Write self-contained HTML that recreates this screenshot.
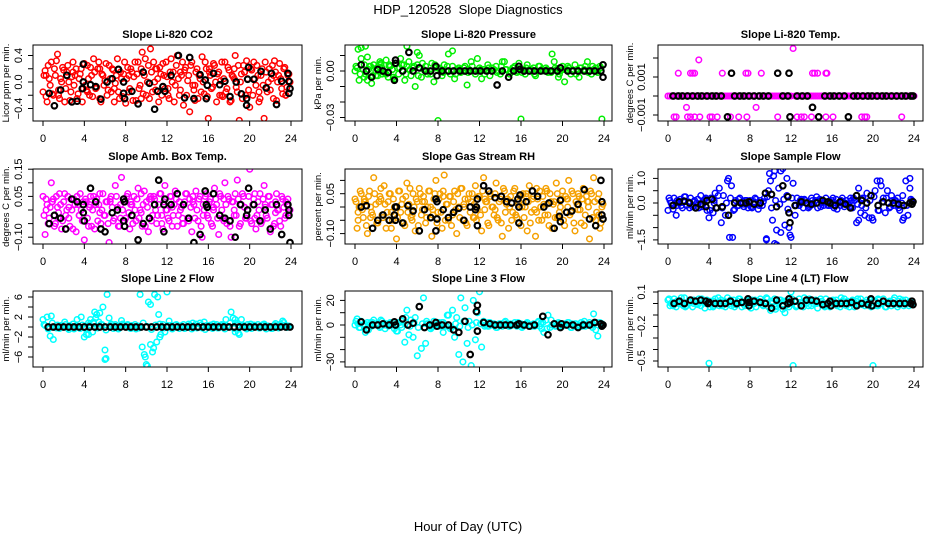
<!DOCTYPE html>
<html><head><meta charset="utf-8"><style>
html,body{margin:0;padding:0;background:#fff;}
svg{display:block;font-family:"Liberation Sans",sans-serif;}
</style></head><body>
<svg id="chart" width="936" height="540" viewBox="0 0 936 540" xmlns="http://www.w3.org/2000/svg">
<text x="468" y="14" font-size="13" text-anchor="middle" xml:space="preserve">HDP_120528&#160; Slope Diagnostics</text>
<text x="468" y="531" font-size="13" text-anchor="middle">Hour of Day (UTC)</text>
</svg>
<script>
const sampleStep = 0.2;
const xTicks = [0,4,8,12,16,20,24];
const xTickLabels = ["0","4","8","12","16","20","24"];

const co2Values = [-0.15,0.17,-0.3,0.05,0.3,-0.2,0.1,0.42,-0.25,0.0,0.18,-0.1,0.25,-0.28,0.08,-0.05,0.2,-0.18,0.12,-0.3,
0.28,-0.12,0.05,0.22,-0.22,0.15,-0.08,0.3,-0.3,0.1,0.02,-0.2,0.25,-0.15,0.18,-0.02,0.35,-0.25,0.05,0.12,
-0.32,0.22,-0.1,0.15,0.08,-0.28,0.3,-0.05,0.45,0.1,-0.2,0.25,0.5,-0.15,0.0,0.2,-0.3,0.12,0.28,-0.1,
0.08,-0.25,0.35,0.15,-0.05,0.4,-0.2,0.1,-0.35,0.22,0.02,-0.45,0.3,-0.12,0.15,-0.25,0.05,0.38,-0.18,0.2,
-0.55,0.1,-0.08,0.25,-0.3,0.15,0.02,-0.22,0.3,-0.1,0.18,-0.28,0.08,0.4,-0.15,-0.58,0.12,0.25,-0.2,0.05,
-0.38,0.18,0.3,-0.05,0.1,-0.25,0.2,-0.55,0.15,0.0,-0.12,0.25,0.32,-0.28,0.1,0.05,-0.18,0.22,-0.08,0.12];
const co2Values2 = [0.1,-0.22,0.25,-0.05,-0.18,0.2,0.32,-0.12,0.05,0.22,-0.3,0.15,0.0,-0.15,0.3,0.1,-0.25,0.05,0.2,-0.1,
-0.05,0.25,-0.2,0.1,0.35,-0.1,0.2,-0.25,0.12,-0.05,0.28,-0.12,0.05,0.2,-0.3,0.1,-0.15,0.15,-0.22,0.3,
0.05,-0.15,0.2,-0.28,0.3,0.12,-0.1,0.2,-0.18,0.35,0.0,-0.25,0.15,0.3,-0.12,0.05,0.22,-0.2,0.1,0.3,
-0.2,0.15,0.0,-0.3,0.25,0.05,-0.12,0.3,0.18,-0.2,0.1,0.25,-0.05,-0.28,0.2,0.1,-0.15,0.0,0.3,-0.22,
0.15,-0.1,0.28,0.0,0.12,-0.2,0.3,0.05,-0.15,0.22,-0.3,0.1,0.2,-0.08,0.25,0.0,-0.25,0.15,0.32,-0.12,
0.2,-0.2,0.05,0.25,-0.3,0.1,-0.05,0.3,-0.15,0.2,0.05,-0.25,0.15,0.0,0.28,-0.1,0.2,-0.2,0.1,0.0];
const co2Extra = [[0.3,0.1],[1.5,-0.2],[2.9,0.15],[4.3,-0.15],[5.5,0.2],[6.9,-0.1],[8.3,0.1],[9.5,-0.25],[10.9,0.2],[12.1,-0.1],[13.3,0.15],[14.7,-0.05],[16.1,0.2],[17.3,-0.2],[18.5,0.05],[19.5,0.15],[20.9,-0.15],[22.3,0.1],[23.5,-0.2]];
const co2Mean = [[0.6,-0.17],[1.1,-0.36],[1.7,-0.12],[2.3,0.1],[2.8,-0.3],[3.3,-0.29],[3.9,0.27],[3.9,0.0],[3.8,-0.1],[4.6,-0.04],[5.1,-0.07],[5.6,-0.26],[6.2,0.0],[6.7,0.05],[7.3,0.19],[7.8,-0.17],[7.8,0.0],[7.9,-0.25],[8.6,-0.14],[9.2,-0.33],[9.7,0.15],[10.3,-0.02],[10.8,-0.41],[11.1,-0.14],[11.6,-0.07],[11.8,-0.14],[12.4,0.1],[13.1,0.4],[13.7,-0.24],[14.2,0.37],[14.6,-0.25],[15.2,0.11],[15.7,0.03],[15.9,-0.05],[15.8,-0.25],[16.5,0.13],[17.1,-0.04],[17.6,0.01],[18.1,-0.22],[18.7,0.0],[19.2,-0.18],[19.7,-0.35],[19.7,-0.25],[19.9,0.22],[19.8,0.04],[20.4,0.04],[21.1,0.16],[21.6,-0.09],[22.1,0.13],[22.6,-0.34],[23.1,0.01],[23.7,0.13],[23.8,0.01],[23.8,-0.17],[23.9,-0.1]];

const pressureValues = [0.0,0.002,-0.006,0.008,0.001,-0.002,0.009,0.003,-0.008,0.004,0.0,-0.003,0.006,0.002,-0.001,0.007,-0.004,0.003,0.001,-0.005,
0.005,-0.002,0.008,0.0,-0.006,0.003,0.006,-0.003,0.002,-0.01,0.004,0.01,-0.004,0.001,0.003,-0.002,0.0,0.005,-0.007,0.002,
-0.032,0.001,-0.003,0.004,0.0,0.011,-0.002,0.003,-0.005,0.001,0.002,-0.001,0.0,0.003,-0.009,0.001,0.006,0.0,-0.002,0.008,
0.002,-0.005,0.001,0.0,0.004,-0.003,0.002,0.001,0.003,0.0,-0.002,0.006,0.006,0.001,-0.004,0.0,0.002,0.003,-0.001,0.005,
-0.031,0.001,-0.002,0.004,0.0,0.001,0.002,-0.003,0.0,0.003,0.001,0.0,0.002,-0.001,0.0,0.011,0.006,0.001,-0.004,0.0,
0.003,-0.007,0.001,0.002,-0.002,0.0,0.004,0.001,-0.004,0.002,0.0,0.003,0.006,0.0,-0.002,0.001,0.002,-0.001,0.003,-0.031];
const pressureValues2 = [0.003,-0.002,0.004,0.001,-0.003,0.002,0.005,-0.001,0.003,-0.004,0.002,0.004,-0.002,0.001,0.003,-0.003,0.005,0.0,-0.002,0.004,0.002,-0.001,0.003,0.0,-0.002,0.001,0.002,-0.001,0.003,0.0,0.001,-0.002,0.002,0.0,-0.001,0.003,0.001,-0.002,0.002,0.0,-0.001,0.002,0.001,-0.002,0.003,0.0,0.001,-0.001,0.002,-0.002,0.001,0.003,0.0,-0.002,0.002,0.001,-0.001,0.003,0.0,0.002];
const pressureExtra = [[0.3,0.014],[0.6,0.015],[1.0,0.016],[0.9,-0.004],[1.5,0.003],[2.0,-0.003],[2.5,0.004],[3.0,-0.002],[3.3,0.004],[4.3,0.002],[4.7,0.004],[5.0,0.016],[1.2,-0.006],[2.6,-0.002],[3.6,0.001],[6.0,0.012],[9.4,0.013]];
const pressureMean = [[0.6,0.004],[1.1,0.0],[1.6,-0.004],[2.2,0.001],[2.7,0.0],[3.2,-0.001],[3.8,-0.006],[3.9,0.005],[3.9,0.007],[4.6,0.0],[5.2,0.012],[5.6,0.0],[6.2,0.002],[6.8,0.0],[7.3,0.0],[7.8,0.003],[7.9,-0.003],[8.4,0.0],[9.0,0.0],[9.5,0.0],[10.1,0.0],[10.6,0.0],[11.1,0.0],[11.6,0.0],[12.1,0.0],[12.7,0.0],[13.2,0.0],[13.7,-0.009],[14.2,0.0],[14.8,-0.004],[15.3,0.0],[15.8,0.003],[15.9,0.001],[16.3,0.0],[16.8,0.0],[17.3,0.0],[17.9,0.0],[18.4,0.0],[18.9,0.0],[19.5,0.0],[19.8,0.002],[20.5,0.0],[21.0,0.0],[21.5,0.0],[22.1,0.0],[22.6,0.0],[23.1,0.0],[23.7,0.0],[23.9,0.004],[23.9,-0.004]];

const tempValues = [0,0,0,0,0,0,0,0,0,-0.0006,0,0,0,0,0,0.0019,0,0,0,0,
0,0,0,0,0,0,0,0,0,0,0,0,0,0,0,0,0,0,0,0,
0,0,0,-0.0006,0,0,0,0,0,0,0,0,0,0,0,0,0,0,0,0,
0,0.0025,0,0,0,0,0,0,0,0,0,0,0,0,0,0,0,0,0,0,
0,0,0,0,0,0,0,0,0,0,0,0,0,0,0,0,0,0,0,0,
0,0,0,0,0,0,0,0,0,0,0,0,0,0,0,0,0,0,0,0];
const tempValues2 = [];
const tempExtra = [[0.6,-0.0011],[0.8,-0.0011],[1.0,0.0012],[2.2,0.0012],[2.4,0.0012],[2.6,0.0012],[1.9,-0.0011],[2.2,-0.0011],[2.6,-0.0011],[3.1,-0.0011],[4.1,-0.0011],[4.3,-0.0011],[4.8,-0.0011],[5.3,0.0012],[6.1,-0.0011],[6.9,-0.0011],[7.6,0.0012],[7.8,0.0012],[7.7,-0.0011],[9.1,0.0012],[10.7,-0.0011],[12.6,-0.0011],[13.0,-0.0011],[13.3,-0.0011],[14.0,-0.0011],[14.1,0.0012],[14.3,0.0012],[14.6,0.0012],[15.4,0.0012],[15.5,0.0012],[15.4,-0.0011],[16.1,-0.0011],[18.9,-0.0011],[19.2,-0.0011],[19.4,-0.0011],[22.8,-0.0011],[24.0,0]];
const tempMean = [[0.5,0],[1.0,0],[1.4,0],[1.9,0],[2.4,0],[2.9,0],[3.3,0],[3.8,0],[4.3,0],[4.7,0],[5.2,0],[5.8,-0.0011],[6.2,0.0012],[6.5,0],[7.0,0],[7.4,0],[7.9,0],[8.4,0],[8.9,0],[9.3,0],[9.8,0],[10.7,0.0012],[11.2,0],[11.7,0],[11.8,0.0012],[11.9,-0.0011],[12.6,0],[13.1,0],[13.6,0],[14.1,-0.0006],[14.7,-0.0011],[15.3,0],[15.8,0],[16.2,0],[16.7,0],[17.2,0],[17.6,-0.0011],[18.1,0],[18.5,0],[19.0,0],[19.5,0],[19.9,0],[20.4,0],[20.9,0],[21.3,0],[21.8,0],[22.3,0],[22.8,0],[23.2,0],[23.7,0],[23.9,0]];

const ambValues = [0.05,-0.09,0.02,-0.03,0.1,0.04,-0.05,0.01,0.06,-0.07,0.03,-0.02,0.05,-0.06,0.0,0.04,-0.08,0.02,0.06,-0.04,
-0.11,0.03,-0.06,0.05,0.0,-0.07,0.04,0.02,-0.05,0.06,-0.02,0.03,-0.12,0.05,-0.04,0.09,0.01,-0.06,0.12,0.03,
-0.03,0.06,-0.07,0.02,0.05,-0.04,0.08,0.0,-0.06,0.07,0.03,-0.08,0.05,-0.02,0.04,-0.05,0.02,0.06,-0.07,0.09,
0.0,-0.04,0.05,-0.02,0.07,-0.06,0.03,0.01,-0.05,0.06,-0.03,0.04,-0.08,0.02,0.07,-0.04,0.05,-0.1,0.0,0.06,
-0.03,0.04,-0.06,0.08,0.02,-0.09,0.05,-0.03,0.1,-0.05,0.04,-0.1,0.03,0.06,0.11,-0.06,0.02,0.05,-0.03,0.0,
0.15,-0.05,0.04,-0.07,0.03,0.06,-0.04,0.09,-0.02,0.05,-0.08,0.02,-0.05,0.06,0.0,-0.06,0.04,-0.03,0.02,-0.01];
const ambValues2 = [-0.02,0.04,-0.05,0.01,0.03,-0.06,0.05,-0.01,0.02,-0.04,0.06,0.0,-0.03,0.04,-0.07,0.02,0.05,-0.02,0.0,0.03,
0.04,-0.03,0.01,-0.06,0.05,0.02,-0.04,0.06,0.0,-0.02,0.03,-0.05,0.04,0.01,-0.03,0.05,-0.06,0.02,0.0,-0.04,
0.05,-0.01,0.03,-0.05,0.0,0.04,-0.03,0.06,0.02,-0.06,0.01,0.04,-0.04,0.05,0.0,-0.02,0.06,-0.05,0.03,0.0,
-0.03,0.05,-0.06,0.02,0.04,-0.02,0.0,-0.05,0.03,0.06,-0.04,0.01,0.05,-0.03,0.0,0.04,-0.06,0.02,0.05,-0.02,
0.03,-0.05,0.01,0.04,-0.03,0.06,0.0,-0.04,0.02,0.05,-0.06,0.03,0.0,-0.02,0.04,-0.05,0.06,0.01,-0.03,0.05,
-0.04,0.02,0.06,-0.02,0.0,-0.05,0.04,0.01,-0.03,0.05,0.02,-0.06,0.03,0.0,-0.04,0.05,0.01,-0.02,0.04,0.0];
const ambExtra = [[0.3,0.0],[0.9,0.03],[1.5,-0.03],[2.5,0.01],[3.5,-0.02],[4.5,0.02],[5.5,-0.01],[6.5,0.03],[7.5,-0.03],[8.5,0.02],[9.5,-0.01],[10.5,0.04],[11.5,-0.02],[12.5,0.01],[13.5,-0.03],[14.5,0.03],[15.5,-0.02],[16.5,0.0],[17.5,0.04],[18.5,-0.02],[19.5,0.01],[20.5,-0.03],[21.5,0.02],[22.5,-0.01],[23.5,0.03]];
const ambMean = [[0.6,-0.05],[1.1,-0.02],[1.7,-0.03],[2.2,-0.07],[2.8,0.04],[3.3,0.03],[3.9,0.02],[3.9,-0.01],[4.0,-0.04],[4.6,0.08],[5.1,0.03],[5.6,-0.07],[6.0,-0.08],[6.7,-0.01],[7.2,0.0],[7.8,0.04],[7.8,-0.04],[7.9,0.03],[7.9,-0.06],[8.6,-0.02],[9.2,-0.11],[9.7,-0.05],[10.3,-0.03],[10.8,0.02],[11.2,0.11],[11.7,0.02],[11.8,0.04],[11.7,-0.08],[12.4,0.02],[13.0,0.06],[13.6,0.02],[14.1,-0.03],[14.6,-0.12],[15.2,-0.09],[15.7,0.07],[15.8,0.02],[15.9,0.01],[16.5,0.06],[17.1,-0.02],[17.6,-0.03],[18.1,-0.04],[18.6,-0.1],[19.1,0.02],[19.7,-0.02],[19.8,0.0],[19.9,0.08],[20.4,0.02],[21.0,-0.04],[21.5,0.0],[22.0,-0.07],[22.6,0.02],[23.1,-0.09],[23.7,0.02],[23.8,0.0],[23.8,-0.02],[23.9,-0.12]];

const rhValues = [0.03,-0.08,0.0,0.05,-0.04,0.02,-0.1,0.06,-0.02,0.11,0.01,-0.06,0.04,-0.03,0.08,-0.08,0.02,0.05,-0.05,0.0,
-0.12,0.06,-0.02,0.03,-0.07,0.09,0.01,-0.04,0.05,-0.09,0.02,0.07,-0.03,0.04,-0.06,0.0,0.06,-0.11,0.03,0.1,
-0.02,0.05,-0.08,0.12,0.01,-0.05,0.04,-0.03,0.06,-0.1,0.0,0.07,-0.05,0.03,-0.07,0.05,0.02,-0.04,0.08,-0.01,
0.04,-0.09,0.11,0.02,-0.06,0.05,0.0,-0.03,0.09,-0.05,0.03,-0.11,0.06,0.01,-0.08,0.04,-0.02,0.07,-0.04,0.02,
-0.07,0.05,0.0,-0.09,0.08,-0.02,0.04,-0.11,0.03,0.06,-0.05,0.01,0.07,-0.03,0.05,-0.08,0.02,0.09,-0.04,0.0,
0.06,-0.07,0.03,0.1,-0.02,0.05,-0.09,0.01,0.04,-0.06,0.07,-0.03,0.02,-0.12,0.05,0.11,-0.05,0.03,-0.08,0.0];
const rhValues2 = [0.02,-0.05,0.06,-0.01,0.03,-0.07,0.04,0.0,-0.03,0.05,-0.06,0.02,0.07,-0.04,0.01,-0.02,0.05,-0.08,0.03,0.0,
-0.04,0.06,0.01,-0.06,0.04,-0.02,0.07,-0.05,0.0,0.03,-0.07,0.05,-0.01,0.02,-0.04,0.06,0.0,-0.03,0.05,-0.06,
0.03,-0.02,0.06,-0.05,0.01,0.04,-0.07,0.02,-0.01,0.05,-0.04,0.07,0.0,-0.06,0.03,-0.02,0.05,0.01,-0.05,0.04,
-0.03,0.06,-0.01,0.02,-0.07,0.04,0.0,0.05,-0.04,0.02,-0.06,0.07,-0.02,0.03,0.0,-0.05,0.06,-0.03,0.01,0.04,
0.0,-0.04,0.05,0.02,-0.06,0.03,-0.01,0.07,-0.05,0.0,0.04,-0.03,0.06,-0.07,0.02,0.01,-0.04,0.05,-0.02,0.03,
-0.05,0.04,0.0,-0.03,0.06,-0.06,0.02,0.05,-0.01,0.03,-0.07,0.04,0.0,0.06,-0.04,0.02,-0.02,0.05,-0.06,0.01];
const rhExtra = [[0.3,-0.02],[0.9,0.02],[1.5,-0.04],[2.5,0.03],[3.5,-0.02],[4.5,0.01],[5.5,-0.03],[6.5,0.02],[7.5,-0.01],[8.5,0.04],[9.5,-0.02],[10.5,0.01],[11.5,-0.04],[12.5,0.03],[13.5,-0.01],[14.5,0.02],[15.5,-0.03],[16.5,0.04],[17.5,-0.02],[18.5,0.01],[19.5,-0.04],[20.5,0.03],[21.5,-0.01],[22.5,0.02],[23.5,-0.03]];
const rhMean = [[0.6,0.0],[1.1,0.005],[1.7,-0.08],[2.2,-0.05],[2.7,-0.03],[3.3,-0.05],[3.8,-0.03],[3.9,-0.05],[3.9,0.0],[4.0,0.0],[4.6,-0.06],[5.1,0.005],[5.6,-0.015],[6.2,-0.09],[6.7,-0.01],[7.3,-0.04],[7.8,0.03],[7.9,0.02],[7.8,-0.09],[7.9,-0.045],[8.5,-0.01],[9.0,-0.04],[9.5,-0.02],[10.0,-0.005],[10.5,-0.05],[11.1,0.0],[11.6,-0.01],[11.7,0.0],[11.8,-0.07],[11.8,0.03],[12.4,0.08],[12.9,0.06],[13.5,0.035],[14.1,0.04],[14.6,0.02],[15.1,0.015],[15.7,0.03],[15.8,0.0],[15.8,-0.06],[15.9,0.045],[16.5,0.02],[17.1,0.06],[17.6,0.04],[18.2,0.0],[18.7,0.015],[19.2,-0.08],[19.7,-0.035],[19.8,-0.055],[19.8,0.025],[20.4,-0.02],[20.9,-0.015],[21.5,0.01],[22.1,0.065],[22.6,-0.045],[23.2,-0.07],[23.7,0.1],[23.8,0.02],[23.8,-0.03],[23.9,-0.045]];

const flowValues = [-0.3,0.1,-0.1,0.2,-0.5,0.0,0.15,-0.2,0.25,-0.1,0.05,0.2,-0.15,0.1,0.0,-0.2,0.3,-0.05,0.15,-0.3,
-0.6,0.2,-0.4,0.4,-0.2,0.6,-0.8,0.3,-0.5,0.9,-1.4,0.7,-0.3,0.1,-0.1,0.2,0.0,-0.15,0.1,-0.2,
0.1,-0.2,0.05,0.15,-0.25,0.1,-0.1,0.2,-1.5,0.5,0.9,-0.7,1.3,-1.7,0.6,-1.2,1.4,-0.9,0.3,-1.0,
-1.4,0.8,-0.5,0.2,-0.1,0.15,-0.2,0.1,0.0,-0.15,0.2,-0.05,0.1,-0.2,0.15,0.0,-0.1,0.2,-0.1,0.05,
0.1,-0.2,0.15,0.0,-0.1,0.2,-0.15,0.1,-0.05,0.2,-0.2,0.1,-0.8,0.6,-0.4,0.2,-0.5,0.4,-0.6,0.3,
-0.7,0.5,0.9,-0.3,0.7,0.2,-0.4,0.5,-0.2,0.3,-0.1,0.1,0.2,-0.3,0.0,-0.6,0.9,-0.5,0.6,0.1];
const flowValues2 = [0.2,-0.25,0.1,-0.1,0.25,-0.2,0.05,0.15,-0.15,0.2,-0.3,0.1,0.3,-0.2,0.0,0.2,-0.25,0.15,-0.05,0.1,-0.15,0.2,-0.1,0.05,0.25,-0.2,0.1,-0.05,0.15,-0.25,0.2,-0.1,0.0,0.15,-0.2,0.1,0.25,-0.15,0.05,-0.1,0.2,-0.25,0.1,0.0,-0.15,0.2,-0.05,0.15,-0.2,0.1,0.25,-0.3,0.05,0.2,-0.15,0.1,-0.2,0.3,-0.1,0.15];
const flowExtra = [[9.9,1.2],[10.3,1.1],[11.0,1.3],[11.6,1.0],[10.6,-1.1],[10.4,-1.65],[11.9,-1.3],[6.3,-1.4],[9.6,-1.45],[5.9,1.0],[20.7,0.9],[23.6,1.0],[18.6,-0.7],[19.9,-0.6],[22.9,-0.7],[0.3,0.0],[0.9,-0.1],[1.5,0.1],[2.5,-0.1],[3.5,0.1],[4.5,0.0],[6.9,-0.1],[7.5,0.1],[8.5,0.0],[12.9,0.1],[13.9,-0.1],[14.9,0.1],[15.9,-0.1],[16.9,0.0],[17.9,0.1],[18.9,-0.1],[21.9,0.1],[22.5,-0.1]];
const flowMean = [[0.5,-0.1],[1.1,0.05],[1.6,0.07],[2.1,0.0],[2.7,-0.2],[3.2,-0.05],[3.7,-0.15],[3.8,0.1],[4.3,0.15],[4.7,-0.2],[5.3,-0.15],[5.9,-0.5],[6.5,0.0],[7.1,0.0],[7.6,0.0],[7.9,0.05],[8.4,-0.05],[9.0,0.0],[9.5,0.4],[10.1,0.35],[10.6,-0.15],[11.2,0.7],[11.7,0.25],[11.8,-0.4],[11.9,-0.8],[12.4,-0.1],[13.0,0.05],[13.5,0.0],[14.0,-0.05],[14.5,0.0],[15.1,0.1],[15.6,0.05],[15.8,0.0],[16.3,-0.1],[16.8,0.05],[17.3,-0.05],[17.8,-0.2],[18.4,0.3],[18.9,0.1],[19.4,0.0],[19.8,0.3],[20.5,-0.1],[21.0,0.05],[21.5,0.0],[22.0,0.0],[22.5,-0.05],[23.0,-0.1],[23.6,0.0],[23.8,-0.05],[23.9,0.05]];

const line2Values = [1.5,0.3,2.0,-0.2,2.2,-2.5,0.0,0.4,-0.3,0.2,0.0,0.5,-0.2,0.3,0.0,-0.4,0.2,0.1,-0.3,0.4,
-2.0,-1.5,0.8,1.5,-1.0,3.0,2.5,1.0,0.5,4.0,-6.5,6.5,1.8,0.6,-0.3,0.5,0.2,-0.2,1.3,0.4,
0.0,0.5,-0.2,0.3,0.0,-0.4,0.2,6.5,-4.0,-5.5,-7.5,5.0,-3.5,-5.0,6.5,-3.0,2.5,-1.5,0.5,-1.0,
7.0,1.2,0.3,-0.2,0.4,0.0,-0.3,0.2,0.5,-0.2,0.0,0.3,-0.4,0.2,0.6,0.0,0.8,-0.2,1.0,0.3,
0.0,0.4,-0.3,0.2,0.5,-0.2,0.0,0.3,-0.4,0.2,0.0,3.0,1.8,-1.0,0.8,-1.5,1.5,0.3,-0.2,0.5,
0.2,-0.3,0.4,0.0,0.5,-0.2,0.3,0.6,-0.4,0.2,0.0,-0.3,0.4,0.1,-0.2,0.6,1.2,0.3,-0.1,0.2];
const line2Values2 = [0.5,-0.4,0.8,-0.2,0.3,1.0,-0.5,0.6,1.5,2.0,-0.3,0.4,0.7,-0.2,0.5,-0.6,0.3,0.2,-0.4,0.6,0.4,-0.3,0.5,-0.2,0.8,0.1,-0.5,0.4,0.6,-0.2,0.3,-0.4,0.5,0.2,-0.3,0.6,0.8,-0.2,0.4,-0.5,0.3,0.6,-0.2,0.5,1.5,0.8,-0.3,0.4,0.2,-0.4,0.6,0.3,-0.2,0.5,0.1,-0.3,0.7,0.4,0.9,0.2];
const line2Extra = [[6.0,-4.6],[6.1,-6.3],[5.2,2.5],[5.5,2.8],[10.4,4.5],[10.7,-4.2],[9.9,-6.0],[10.1,-7.8],[11.3,-2.0],[11.1,6.0],[18.6,1.5],[18.9,-1.2],[4.4,-1.5],[0.7,-1.8],[4.9,1.0],[5.1,1.8]];
const line2Mean = [[0.5,0],[1.0,0],[1.5,0],[2.0,0],[2.5,0],[3.0,0],[3.5,0],[4.0,0],[4.5,0],[5.0,0],[5.5,0],[6.0,0],[6.5,0],[7.0,0],[7.5,0],[8.0,0],[8.5,0],[9.0,0],[9.5,0],[10.0,0],[10.5,0],[11.0,0],[11.5,0],[12.0,0],[12.5,0],[13.0,0],[13.5,0],[14.0,0],[14.5,0],[15.0,0],[15.5,0],[16.0,0],[16.5,0],[17.0,0],[17.5,0],[18.0,0],[18.5,0],[19.0,0],[19.5,0],[20.0,0],[20.5,0],[21.0,0],[21.5,0],[22.0,0],[22.5,0],[23.0,0],[23.5,0],[23.9,0]];

const line3Values = [0,5,-2,3,0,-6,2,0,-1,4,0,1,-2,3,0,1,-1,2,0,-3,
-5,2,0,5,-14,12,-8,4,-10,6,-25,15,-19,22,-15,1,0,-2,3,0,
1,-1,2,0,-1,8,-3,12,-10,6,-24,22,-30,14,-15,3,-33,20,-12,10,
27,-18,3,0,-1,2,0,1,-2,0,1,-1,2,0,-1,1,0,2,-1,0,
1,-1,0,2,0,-1,1,0,2,-1,-3,-6,4,8,-2,0,1,-1,2,0,
-1,1,0,2,-2,0,1,-1,0,2,1,-1,0,2,0,9,-4,-9,2,1];
const line3Values2 = [3,-2,1,-4,2,0,4,-3,1,2,-5,3,6,-1,2,-2,1,3,-3,0,2,-6,8,-2,1,-1,3,-2,0,2,1,-1,2,0,-2,1,3,-1,0,2,-2,1,0,-1,3,2,-3,4,-1,1,0,2,-2,1,-1,3,0,-2,2,1];
const line3Extra = [[0.3,1],[0.9,-1],[1.5,2],[2.5,-1],[3.5,1],[4.5,-2],[6.9,1],[7.5,-1],[8.5,2],[12.9,-1],[13.9,1],[14.9,-1],[15.9,1],[16.9,-1],[17.9,1],[19.9,-1],[20.9,1],[21.9,-1],[22.9,1]];
const line3Mean = [[0.6,2.5],[1.1,-4],[1.7,0],[2.2,0],[2.7,1],[3.3,0],[3.8,2.5],[3.9,0],[4.6,5],[5.1,0],[5.6,1.5],[6.2,15],[6.7,-2],[7.2,0],[7.8,2],[7.9,-1],[8.4,0],[9.0,0],[9.5,-4],[10.0,-6],[10.6,3],[11.1,-24],[11.7,11],[11.8,16],[11.8,-5],[12.4,2],[13.0,1],[13.5,0],[14.0,0],[14.5,0],[15.0,0],[15.6,0],[15.8,1],[16.3,0],[16.8,-1],[17.3,0],[18.1,7],[18.6,-8],[19.2,1],[19.8,-2],[19.9,1],[20.4,0],[21.0,0],[21.5,-2],[22.0,0],[22.6,0],[23.1,2],[23.7,1],[23.8,-1],[23.9,0]];

const line4Values = [0.03,-0.02,0.01,0.04,-0.03,0.0,0.02,-0.01,0.05,-0.02,0.01,0.03,-0.03,0.02,0.0,0.04,-0.02,0.01,-0.04,0.03,
-0.52,0.02,-0.03,0.04,0.0,-0.02,0.03,0.01,-0.03,0.05,0.0,-0.02,0.03,-0.01,0.02,0.04,-0.03,0.01,0.0,0.03,
-0.02,0.03,0.0,-0.03,0.02,0.04,-0.01,0.01,0.05,-0.03,-0.06,0.02,0.04,-0.02,0.0,0.03,-0.05,-0.08,0.02,-0.03,
0.1,-0.54,0.02,-0.02,0.04,0.0,-0.03,0.02,0.01,0.04,-0.02,0.0,0.03,-0.04,0.01,0.02,-0.02,0.04,0.0,-0.03,
0.02,-0.01,0.03,0.0,-0.03,0.02,0.04,-0.02,0.01,0.0,0.03,-0.03,0.02,-0.01,0.04,0.0,-0.02,0.03,0.01,-0.03,
-0.54,0.02,-0.02,0.03,0.0,0.04,-0.03,0.01,0.02,-0.02,0.03,0.0,-0.03,0.04,0.01,-0.02,0.03,0.0,0.02,-0.01];
const line4Values2 = [0.04,-0.02,0.02,0.05,-0.03,0.01,0.03,-0.01,0.04,0.0,-0.03,0.02,0.05,-0.02,0.01,0.03,-0.03,0.04,0.0,0.02,-0.04,0.03,0.01,-0.02,0.04,0.0,-0.05,0.03,0.02,-0.01,0.04,-0.03,0.01,0.05,-0.02,0.02,0.0,0.04,-0.03,0.01,0.03,-0.02,0.05,0.0,-0.03,0.02,0.04,-0.01,0.01,0.03,-0.02,0.04,0.0,-0.03,0.02,0.05,-0.01,0.03,0.0,0.02];
const line4Extra = [[0.3,0.0],[0.9,0.02],[1.5,-0.02],[2.5,0.0],[3.5,0.02],[4.1,0.0],[4.5,-0.02],[5.5,0.02],[6.5,0.0],[7.5,-0.02],[8.5,0.02],[9.5,0.0],[10.5,-0.03],[11.5,0.02],[12.1,0.0],[12.5,-0.02],[13.5,0.0],[14.5,0.02],[15.5,-0.02],[16.5,0.0],[17.5,0.02],[18.5,-0.02],[19.5,0.0],[20.1,0.02],[20.5,-0.02],[21.5,0.0],[22.5,0.02],[23.5,-0.02]];
const line4Mean = [[0.6,0.0],[1.1,0.02],[1.6,0.0],[2.2,0.03],[2.7,0.02],[3.2,0.03],[3.7,0.02],[3.9,0.0],[4.0,0.01],[4.6,0.0],[5.1,0.0],[5.6,0.0],[6.1,0.02],[6.7,0.0],[7.2,0.01],[7.8,0.04],[7.9,-0.02],[7.9,0.01],[8.4,0.02],[9.0,0.01],[9.5,0.0],[10.1,-0.04],[10.6,0.03],[11.2,-0.02],[11.7,0.0],[11.8,0.04],[11.9,0.01],[12.4,0.02],[13.0,-0.02],[13.5,0.03],[14.0,0.03],[14.5,0.02],[15.1,-0.01],[15.6,0.0],[15.8,0.02],[15.9,-0.02],[16.4,0.0],[16.9,0.0],[17.4,0.0],[17.9,0.01],[18.4,-0.02],[18.9,0.0],[19.5,-0.01],[19.8,0.04],[19.9,-0.02],[20.5,0.0],[21.0,0.02],[21.5,0.0],[22.0,0.0],[22.6,0.0],[23.1,0.0],[23.7,0.0],[23.8,0.02],[23.9,-0.01]];

const co2Ticks=[-0.4,-0.2,0,0.2,0.4], co2Labels=["-0.4","","0.0","","0.4"];
const presTicks=[-0.03,-0.02,-0.01,0,0.01], presLabels=["-0.03","","","0.00",""];
const tempTicks=[-0.001,0,0.001,0.002], tempLabels=["-0.001","","0.001",""];
const ambTicks=[-0.10,-0.05,0,0.05,0.10,0.15], ambLabels=["-0.10","","","0.05","","0.15"];
const rhTicks=[-0.10,-0.05,0,0.05,0.10], rhLabels=["-0.10","","","0.05",""];
const flowTicks=[-1.5,-1.0,-0.5,0,0.5,1.0], flowLabels=["-1.5","","","0.0","","1.0"];
const l2Ticks=[-6,-4,-2,0,2,4,6], l2Labels=["-6","","-2","","2","","6"];
const l3Ticks=[-30,-20,-10,0,10,20], l3Labels=["-30","","","0","","20"];
const l4Ticks=[-0.5,-0.4,-0.3,-0.2,-0.1,0,0.1], l4Labels=["-0.5","","","-0.2","","","0.1"];

// ---- layout ----
const cols=[{bl:33,br:302,x0:43,x24:291,ylab:9,tl:22},{bl:345,br:612,x0:355,x24:604,ylab:321,tl:334},{bl:658,br:923,x0:668,x24:914,ylab:633,tl:645}];
const rows=[{bt:45,bb:121,title:38},{bt:169,bb:244,title:160},{bt:291,bb:367,title:282}];
const panels=[
 {name:"co2",title:"Slope Li-820 CO2",ylab:"Licor ppm per min.",c:0,r:0,color:"#ff0000",vals:co2Values,vals2:co2Values2,step2:0.2,extra:co2Extra,mean:co2Mean,ticks:co2Ticks,labels:co2Labels,ref:0,refY:82,ppu:66.25},
 {name:"pressure",title:"Slope Li-820 Pressure",ylab:"kPa per min.",c:1,r:0,color:"#00ee00",vals:pressureValues,vals2:pressureValues2,step2:0.4,extra:pressureExtra,mean:pressureMean,ticks:presTicks,labels:presLabels,ref:0,refY:71,ppu:1550},
 {name:"temp",title:"Slope Li-820 Temp.",ylab:"degrees C per min.",c:2,r:0,color:"#ff00ff",vals:tempValues,vals2:tempValues2,step2:0.4,extra:tempExtra,mean:tempMean,ticks:tempTicks,labels:tempLabels,ref:0,refY:96,ppu:19000},
 {name:"amb-box-temp",title:"Slope Amb. Box Temp.",ylab:"degrees C per min.",c:0,r:1,color:"#ff00ff",vals:ambValues,vals2:ambValues2,step2:0.2,extra:ambExtra,mean:ambMean,ticks:ambTicks,labels:ambLabels,ref:0,refY:210,ppu:272},
 {name:"gas-stream-rh",title:"Slope Gas Stream RH",ylab:"percent per min.",c:1,r:1,color:"#f5a000",vals:rhValues,vals2:rhValues2,step2:0.2,extra:rhExtra,mean:rhMean,ticks:rhTicks,labels:rhLabels,ref:0,refY:207,ppu:266},
 {name:"sample-flow",title:"Slope Sample Flow",ylab:"ml/min per min.",c:2,r:1,color:"#0000ff",vals:flowValues,vals2:flowValues2,step2:0.4,extra:flowExtra,mean:flowMean,ticks:flowTicks,labels:flowLabels,ref:0,refY:203,ppu:24.6},
 {name:"line2-flow",title:"Slope Line 2 Flow",ylab:"ml/min per min.",c:0,r:2,color:"#00ffff",vals:line2Values,vals2:line2Values2,step2:0.4,extra:line2Extra,mean:line2Mean,ticks:l2Ticks,labels:l2Labels,ref:0,refY:327,ppu:5},
 {name:"line3-flow",title:"Slope Line 3 Flow",ylab:"ml/min per min.",c:1,r:2,color:"#00ffff",vals:line3Values,vals2:line3Values2,step2:0.4,extra:line3Extra,mean:line3Mean,ticks:l3Ticks,labels:l3Labels,ref:0,refY:325,ppu:1.23},
 {name:"line4-flow",title:"Slope Line 4 (LT) Flow",ylab:"ml/min per min.",c:2,r:2,color:"#00ffff",vals:line4Values,vals2:line4Values2,step2:0.4,extra:line4Extra,mean:line4Mean,ticks:l4Ticks,labels:l4Labels,ref:0.1,refY:292,ppu:115}
];

const NS="http://www.w3.org/2000/svg";
const svg=document.getElementById("chart");
function mk(tag,attrs,parent){const e=document.createElementNS(NS,tag);for(const k in attrs)e.setAttribute(k,attrs[k]);(parent||svg).appendChild(e);return e;}

panels.forEach(p=>{
  const C=cols[p.c],R=rows[p.r];
  const g=mk("g",{});
  
  
  const xs=h=>C.x0+(h/24)*(C.x24-C.x0);
  const ys=v=>p.refY-(v-p.ref)*p.ppu;
  const cid="clip-"+p.name;
  const cp=mk("clipPath",{id:cid},g);
  mk("rect",{x:C.bl,y:R.bt,width:C.br-C.bl,height:R.bb-R.bt},cp);
  const pts=mk("g",{"clip-path":"url(#"+cid+")"},g);
  
  
  const drawPt=(x,y,col,sw,nm)=>{
    const c=mk("circle",{cx:xs(x).toFixed(1),cy:ys(y).toFixed(1),r:2.8,fill:"none",stroke:col,"stroke-width":sw},pts);
    
    
  };
  p.vals.forEach((v,i)=>drawPt(i*sampleStep,v,p.color,1.5,p.name+'-point'));
  p.vals2.forEach((v,i)=>drawPt(i*p.step2+0.1,v,p.color,1.5,p.name+'-point'));
  p.extra.forEach(d=>drawPt(d[0],d[1],p.color,1.5,p.name+'-point'));
  p.mean.forEach(d=>drawPt(d[0],d[1],"#000",2.1,p.name+'-mean-point'));
  const box=mk("rect",{x:C.bl,y:R.bt,width:C.br-C.bl,height:R.bb-R.bt,fill:"none",stroke:"#000","stroke-width":1},g);
  
  
  const t=mk("text",{x:(C.bl+C.br)/2,y:R.title,"font-size":11,"font-weight":"bold","text-anchor":"middle"},g);
  t.textContent=p.title;
  
  
  const xa=mk("g",{},g);
  
  
  mk("line",{x1:xs(0),x2:xs(24),y1:R.bb,y2:R.bb,stroke:"#000"},xa);
  xTicks.forEach((tv,i)=>{
    mk("line",{x1:xs(tv),x2:xs(tv),y1:R.bb,y2:R.bb+5,stroke:"#000"},xa);
    const tl=mk("text",{x:xs(tv),y:R.bb+21,"font-size":11,"text-anchor":"middle"},xa);
    tl.textContent=xTickLabels[i];
    
    
  });
  const ya=mk("g",{},g);
  
  
  const tmin=p.ticks[0],tmax=p.ticks[p.ticks.length-1];
  mk("line",{x1:C.bl,x2:C.bl,y1:ys(tmin),y2:ys(tmax),stroke:"#000"},ya);
  p.ticks.forEach((tv,i)=>{
    const y=ys(tv);
    mk("line",{x1:C.bl-5,x2:C.bl,y1:y,y2:y,stroke:"#000"},ya);
    if(p.labels[i]){
      const tl=mk("text",{x:C.tl,y:y,"font-size":11,"text-anchor":"middle",transform:"rotate(-90 "+C.tl+" "+y+")"},ya);
      tl.textContent=p.labels[i].replace("-","\u2212");
      
      
    }
  });
  const cy=(R.bt+R.bb)/2;
  const yl=mk("text",{x:C.ylab,y:cy,"font-size":9.5,"text-anchor":"middle",transform:"rotate(-90 "+C.ylab+" "+cy+")"},g);
  yl.textContent=p.ylab;
  
  
});
</script>
</body></html>
